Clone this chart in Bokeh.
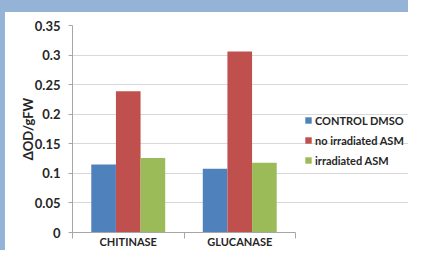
from bokeh.plotting import figure
from bokeh.models import Range1d, FixedTicker, Legend, LegendItem, ColumnDataSource, Div
from bokeh.layouts import row, column
from bokeh.transform import dodge
from bokeh.embed import file_html
from bokeh.resources import INLINE

categories = ["CHITINASE", "GLUCANASE"]
series = ["CONTROL DMSO", "no irradiated ASM", "irradiated ASM"]
control_dmso = [0.115, 0.108]
no_irradiated_asm = [0.239, 0.306]
irradiated_asm = [0.126, 0.118]
colors = ["#4F81BD", "#C0504D", "#9BBB59"]
y_ticks = [0, 0.05, 0.1, 0.15, 0.2, 0.25, 0.3, 0.35]
y_tick_labels = ["0", "0.05", "0.1", "0.15", "0.2", "0.25", "0.3", "0.35"]
y_label = "ΔOD/gFW"

FONT = "Lato"
TXT = "#262626"
AX = "#A6A6A6"
BAND = "#95B3D7"
BAR_W = 0.221
N = len(categories)
# frame extends under the legend; categories occupy the left 223 of 336 px
X_END = N * 336 / 223

centers = [i + 0.5 for i in range(N)]
src = ColumnDataSource(dict(xc=centers, s0=control_dmso, s1=no_irradiated_asm, s2=irradiated_asm))

p = figure(width=403, height=238, x_range=Range1d(0, X_END),
           y_range=Range1d(y_ticks[0], y_ticks[-1]), title=None,
           output_backend="svg", toolbar_location=None,
           min_border_left=67, min_border_right=0, min_border_top=13, min_border_bottom=16)
p.outline_line_color = None
p.background_fill_color = "white"
p.border_fill_color = "white"

items = []
for j, (name, key) in enumerate(zip(series, ["s0", "s1", "s2"])):
    r = p.vbar(x=dodge("xc", (j - 1) * BAR_W, range=p.x_range), top=key, width=BAR_W,
               bottom=0, source=src, fill_color=colors[j], line_color=None)
    items.append(LegendItem(label=name, renderers=[r]))

legend = Legend(items=items, location=(232, 62), orientation="vertical")
legend.label_text_font = FONT
legend.label_text_font_style = "bold"
legend.label_text_font_size = "11px"
legend.label_text_color = TXT
legend.glyph_width = 8
legend.glyph_height = 8
legend.label_height = 20
legend.spacing = 0
legend.padding = 0
legend.margin = 0
legend.label_standoff = 3
legend.border_line_color = None
legend.background_fill_alpha = 0
p.add_layout(legend)

p.xgrid.visible = False
p.ygrid.grid_line_color = "#D9D9D9"
p.ygrid.ticker = FixedTicker(ticks=y_ticks)
p.ygrid.bounds = (0, N)

xa = p.xaxis[0]
xa.bounds = (0, N)
xa.ticker = FixedTicker(ticks=centers, minor_ticks=list(range(N + 1)))
xa.major_label_overrides = {c: n for c, n in zip(centers, categories)}
xa.major_tick_out = 0
xa.major_tick_in = 0
xa.minor_tick_out = 6
xa.minor_tick_in = 0
xa.minor_tick_line_color = AX
xa.axis_line_color = AX
xa.major_label_text_font = FONT
xa.major_label_text_font_style = "bold"
xa.major_label_text_font_size = "11px"
xa.major_label_text_color = TXT
xa.major_label_standoff = -4

ya = p.yaxis[0]
ya.ticker = FixedTicker(ticks=y_ticks)
ya.major_label_overrides = {t: l for t, l in zip(y_ticks, y_tick_labels)}
ya.major_tick_out = 4
ya.major_tick_in = 0
ya.minor_tick_out = 0
ya.minor_tick_in = 0
ya.major_tick_line_color = AX
ya.axis_line_color = AX
ya.major_label_text_font = FONT
ya.major_label_text_font_style = "bold"
ya.major_label_text_font_size = "13px"
ya.major_label_text_color = TXT
ya.major_label_standoff = 8
ya.axis_label = y_label
ya.axis_label_text_font = FONT
ya.axis_label_text_font_style = "bold"
ya.axis_label_text_font_size = "13px"
ya.axis_label_text_color = TXT
ya.axis_label_standoff = -4

left_band = Div(text="", width=5, height=250, margin=0, styles={"background-color": BAND})
top_band = Div(text="", width=403, height=12, margin=0, styles={"background-color": BAND})
layout = row(left_band, column(top_band, p, spacing=0), spacing=0)

open("out.html", "w").write(file_html(layout, INLINE))
